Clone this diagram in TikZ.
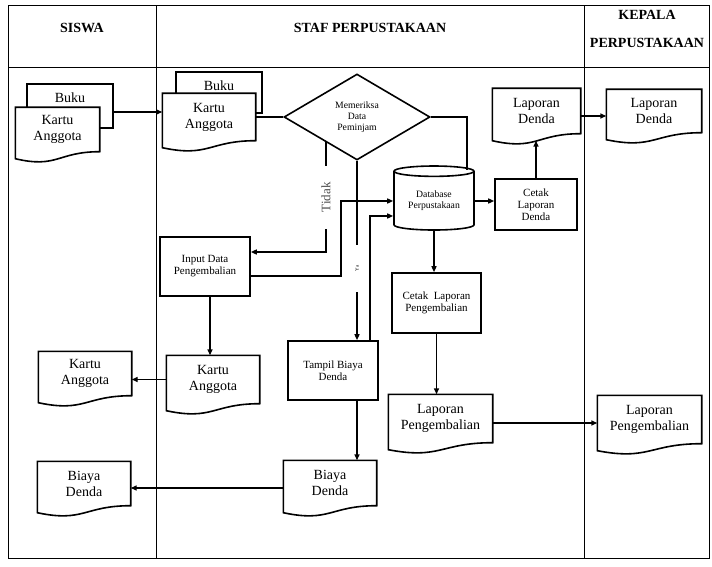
\documentclass[tikz,border=0pt]{standalone}
\usepackage{fontspec}
\setmainfont{Liberation Serif}
\usetikzlibrary{arrows.meta,shapes.geometric,backgrounds,calc}

% document outline with wavy bottom, drawn behind the named node
\newcommand{\docoutline}[1]{%
  \begin{scope}[on background layer]
    \draw[docline] (#1.north west) -- (#1.north east) -- (#1.south east)
      .. controls (#1.south) and ([yshift=-17pt]#1.south) .. ([yshift=-7pt]#1.south west) -- cycle;
  \end{scope}}

\begin{document}
\begin{tikzpicture}[x=1pt,y=-1pt,line width=1.4pt,>={Triangle[length=6pt,width=5pt]},
  hdr/.style={font=\fontsize{14}{16}\selectfont\bfseries},
  docline/.style={draw,fill=white,line width=1.6pt},
  doc/.style={align=center,inner sep=0pt,font=\fontsize{14}{16}\selectfont},
  backdoc/.style={draw,fill=white,line width=1.6pt,minimum width=86pt,inner sep=0pt},
  proc/.style={draw,fill=white,line width=1.6pt,align=center,inner sep=1pt,font=\fontsize{11}{12}\selectfont},
  ya/.style={rotate=90,fill=white,inner sep=0pt,minimum width=47pt,font=\fontsize{5}{5}\selectfont},
  tidak/.style={rotate=90,fill=white,inner sep=0pt,minimum width=63pt,text=black!70,font=\fontsize{13}{13}\selectfont}]
\useasboundingbox (0,0) rectangle (712,567);

% lanes
\draw[line width=0.9pt] (8,5.5) rectangle (709,558.5);
\draw[line width=0.9pt] (8,67) -- (709,67);
\draw[line width=0.9pt] (156,5.5) -- (156,558.5);
\draw[line width=0.9pt] (584.5,5.5) -- (584.5,558.5);
\node[hdr] (siswa) at (82,28) {SISWA};
\node[hdr] (staf) at (370,28) {STAF PERPUSTAKAAN};
\node[hdr] (kepala) at (647,15) {KEPALA};
\node[hdr] (kepalaB) at (647,43) {PERPUSTAKAAN};

% siswa: buku + kartu anggota
\begin{scope}[on background layer]
  \node[backdoc,minimum height=44pt] (bukuL) at (70,106) {};
\end{scope}
\node[doc] (bukuLtxt) at (70,98) {Buku};
\node[doc,minimum width=83pt,minimum height=43pt] (kartuL) at (57.5,129.5) {Kartu\\Anggota};
\docoutline{kartuL}

% staf: buku + kartu anggota
\begin{scope}[on background layer]
  \node[backdoc,minimum height=41pt] (bukuM) at (219,92.5) {};
\end{scope}
\node[doc] (bukuMtxt) at (219,86) {Buku};
\node[doc,minimum width=92pt,minimum height=46pt] (kartuM) at (209,117) {Kartu\\Anggota};
\docoutline{kartuM}

% check and database
\node[draw,diamond,aspect=1.7,line width=1.6pt,inner sep=0pt,minimum width=146pt,minimum height=86pt,
  align=center,font=\fontsize{9.7}{11}\selectfont] (periksa) at (357,117) {Memeriksa\\Data\\Peminjam};
\node[draw,cylinder,shape border rotate=90,aspect=0.2,fill=white,line width=1.6pt,inner sep=0pt,
  minimum width=80pt,minimum height=64pt,align=center,font=\fontsize{9.7}{11}\selectfont] (db) at (434,201) {Database\\Perpustakaan};
\node[proc,minimum width=90pt,minimum height=59pt] (input) at (205,266.5) {Input Data\\Pengembalian};
\node[proc,minimum width=90pt,minimum height=59pt] (tampil) at (333,370.5) {Tampil Biaya\\Denda};
\node[proc,minimum width=89pt,minimum height=60pt] (cetakP) at (436.5,303) {Cetak~~Laporan\\Pengembalian};
\node[proc,minimum width=82pt,minimum height=51pt] (cetakD) at (536,204.5) {Cetak\\Laporan\\Denda};

% output documents
\node[doc,minimum width=92pt,minimum height=47pt] (kartuM2) at (213,379.5) {Kartu\\Anggota};
\docoutline{kartuM2}
\node[doc,minimum width=92pt,minimum height=43pt] (kartuL2) at (85,373.5) {Kartu\\Anggota};
\docoutline{kartuL2}
\node[doc,minimum width=92pt,minimum height=44pt] (biayaM) at (330,483) {Biaya\\Denda};
\docoutline{biayaM}
\node[doc,minimum width=92pt,minimum height=43pt] (biayaL) at (84,483.5) {Biaya\\Denda};
\docoutline{biayaL}
\node[doc,minimum width=103pt,minimum height=47pt] (lapP) at (440.5,418.5) {Laporan\\Pengembalian};
\docoutline{lapP}
\node[doc,minimum width=103pt,minimum height=47pt] (lapPK) at (649.5,419.5) {Laporan\\Pengembalian};
\docoutline{lapPK}
\node[doc,minimum width=87pt,minimum height=44pt] (lapD) at (536.5,111) {Laporan\\Denda};
\docoutline{lapD}
\node[doc,minimum width=94pt,minimum height=42pt] (lapDK) at (654,111) {Laporan\\Denda};
\docoutline{lapDK}

% connectors
\draw[->] ([yshift=-6pt]bukuL.east) -- ([yshift=-6pt]bukuL.east -| kartuM.west);
\draw (kartuM.east) -- (periksa.west);
\draw (periksa.east) -| ([xshift=33pt,yshift=-5pt]db.north);
\draw[->] (periksa.south) -- node[ya,pos=0.6] {Ya} (periksa.south |- tampil.north);
\coordinate (tdk) at ($(periksa.west)!0.58!(periksa.south)$);
\draw[->] (tdk) |- node[tidak,pos=0.25] {Tidak} ([yshift=14.5pt]input.east);
\draw[->] ([yshift=-9.5pt]input.east) -- ++(90,0) |- (db.west);
\draw[->] ([xshift=-9pt]tampil.north east) |- ([yshift=-15pt]db.west);
\draw[->] (db.south) -- (db.south |- cetakP.north);
\draw[->] (cetakP.south) -- (cetakP.south |- lapP.north);
\draw[->] ([yshift=-4.5pt]lapP.east) -- ([yshift=-4.5pt]lapP.east -| lapPK.west);
\draw[->] (db.east) -- (db.east -| cetakD.west);
\draw[->] (cetakD.north) -- ([yshift=-7pt]cetakD.north |- lapD.south);
\draw[->] ([yshift=-5pt]lapD.east) -- ([yshift=-5pt]lapD.east -| lapDK.west);
\draw[->] ([xshift=5pt]input.south) -- ([xshift=5pt]input.south |- kartuM2.north);
\draw[->] (kartuM2.west) -- (kartuM2.west -| kartuL2.east);
\draw[->] (periksa.south |- tampil.south) -- (periksa.south |- biayaM.north);
\draw[->] ([yshift=-5pt]biayaM.west) -- ([yshift=-5pt]biayaM.west -| biayaL.east);
\end{tikzpicture}
\end{document}
